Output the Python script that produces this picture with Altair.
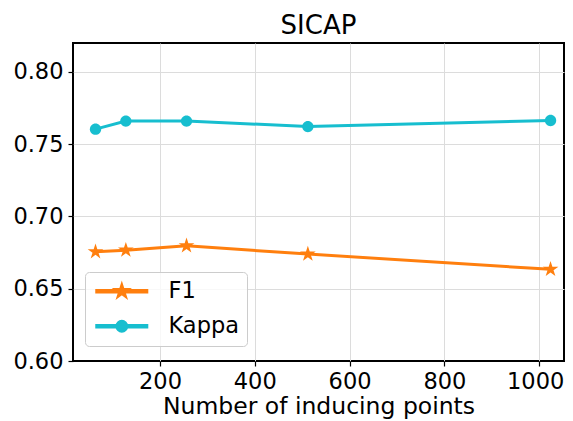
import math
import altair as alt
import pandas as pd

# ---- data ----
inducing_points = [64, 128, 256, 512, 1024]
f1_values = [0.6756, 0.6767, 0.6797, 0.6740, 0.6634]
kappa_values = [0.7604, 0.7660, 0.7660, 0.7622, 0.7664]
series_names = ["F1", "Kappa"]
series_colors = ["#ff7f0e", "#17becf"]
x_ticks = [200, 400, 600, 800, 1000]
y_ticks = [0.60, 0.65, 0.70, 0.75, 0.80]

rows = []
for x, v in zip(inducing_points, f1_values):
    rows.append({"points": x, "value": v, "series": "F1"})
for x, v in zip(inducing_points, kappa_values):
    rows.append({"points": x, "value": v, "series": "Kappa"})
df = pd.DataFrame(rows)


# ---- marker shapes (unit coordinates, Vega scales them by sqrt(size)/2) ----
def fmt(v):
    return f"{v:.4f}".rstrip("0").rstrip(".")


def star_path(cx=0.0, r=1.0):
    pts = []
    for i in range(10):
        a = math.radians(-90 + 36 * i)
        rr = r if i % 2 == 0 else r * 0.382
        pts.append((cx + rr * math.cos(a), rr * math.sin(a)))
    return "M" + "L".join(f"{fmt(px)},{fmt(py)}" for px, py in pts) + "Z"


def circle_path(cx=0.0, r=0.685):
    return (f"M{fmt(cx + r)},0A{fmt(r)},{fmt(r)},0,1,1,{fmt(cx - r)},0"
            f"A{fmt(r)},{fmt(r)},0,1,1,{fmt(cx + r)},0Z")


def line_rect(x0=-1.0, x1=5.25, h=0.18):
    return f"M{fmt(x0)},{fmt(-h)}L{fmt(x1)},{fmt(-h)}L{fmt(x1)},{fmt(h)}L{fmt(x0)},{fmt(h)}Z"


STAR = star_path()
CIRCLE = circle_path()
LEG_STAR = line_rect() + star_path(cx=2.13)
LEG_CIRCLE = line_rect() + circle_path(cx=2.13)

FONT = "DejaVu Sans"
MSIZE = 272

xscale = alt.Scale(domain=[16.5, 1052.4], nice=False, zero=False)
yscale = alt.Scale(domain=[0.60, 0.82], nice=False, zero=False)
cscale = alt.Scale(domain=series_names, range=series_colors)

x_enc = alt.X("points:Q", scale=xscale,
              axis=alt.Axis(values=x_ticks, format="d", title="Number of inducing points",
                            labelPadding=4, titlePadding=2, labelFlush=False,
                            labelOffset={"condition": {"test": "datum.value > 999", "value": -4},
                                         "value": 0}))
y_enc = alt.Y("value:Q", scale=yscale,
              axis=alt.Axis(values=y_ticks, format=".2f", title=None, labelPadding=5,
                            gridOpacity={"condition": {"test": "datum.value < 0.61", "value": 0},
                                         "value": 1}))

base = alt.Chart(df)

legend_cfg = dict(
    title=None, orient="none", legendX=12, legendY=229,
    labelFont=FONT, labelFontSize=22.5, labelColor="black",
    symbolSize=MSIZE, labelOffset=53, rowPadding=12, padding=8,
    strokeColor="#cccccc", fillColor="rgba(255,255,255,0.8)", cornerRadius=4,
)

# legend-only layer: its marks sit far outside the x domain and are clipped away
legend_layer = base.mark_point(filled=True, opacity=1, size=MSIZE, clip=True).encode(
    x=alt.X("hidden:Q", scale=xscale),
    y=y_enc,
    color=alt.Color("series:N", scale=cscale, legend=alt.Legend(**legend_cfg)),
    shape=alt.Shape("series:N",
                    scale=alt.Scale(domain=series_names, range=[LEG_STAR, LEG_CIRCLE]),
                    legend=alt.Legend(**legend_cfg)),
).transform_calculate(hidden="-100000")

lines = base.mark_line(strokeWidth=3).encode(
    x=x_enc, y=y_enc,
    color=alt.Color("series:N", scale=cscale, legend=None),
)

stars = base.mark_point(filled=True, opacity=1, size=MSIZE, shape=STAR).encode(
    x=x_enc, y=y_enc,
    color=alt.Color("series:N", scale=cscale, legend=None),
).transform_filter(alt.datum.series == "F1")

dots = base.mark_point(filled=True, opacity=1, size=MSIZE, shape=CIRCLE).encode(
    x=x_enc, y=y_enc,
    color=alt.Color("series:N", scale=cscale, legend=None),
).transform_filter(alt.datum.series == "Kappa")

chart = alt.layer(legend_layer, lines, stars, dots).properties(
    width=491, height=318,
    title=alt.TitleParams("SICAP", font=FONT, fontSize=26, fontWeight="normal",
                          color="black", anchor="middle"),
    autosize=alt.AutoSizeParams(type="none"),
    padding={"left": 65, "top": 35, "right": 1, "bottom": 60},
).configure_view(
    stroke="black", strokeWidth=2,
).configure_axis(
    domain=False, grid=True, gridColor="#dcdcdc", gridWidth=1,
    tickColor="black", tickSize=5, tickWidth=1.2,
    labelFont=FONT, labelFontSize=22.5, labelColor="black",
    titleFont=FONT, titleFontSize=23.5, titleColor="black", titleFontWeight="normal",
)

chart.save("out.html", embed_options={"renderer": "svg", "actions": False})
